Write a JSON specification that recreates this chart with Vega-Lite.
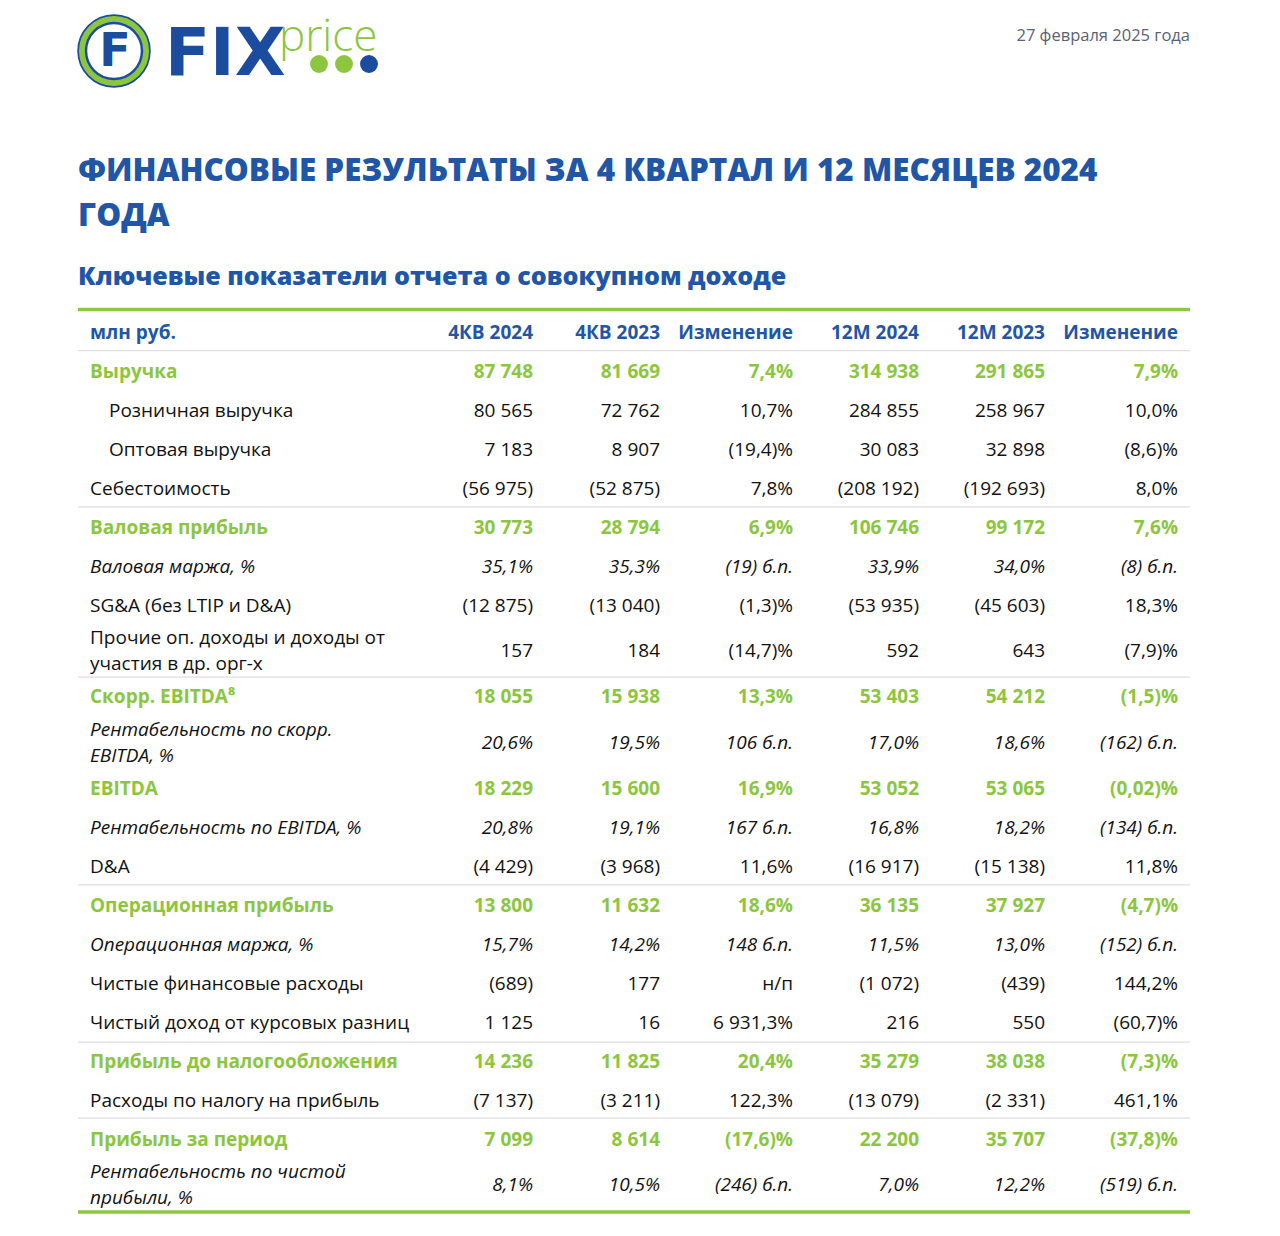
{
  "$schema": "https://vega.github.io/schema/vega-lite/v6.json",
  "width": 1280,
  "height": 1236,
  "autosize": "none",
  "padding": 0,
  "background": "white",
  "config": {"view": {"stroke": null}, "text": {"font": "Open Sans", "lineBreak": "\n"}},
  "datasets": {
    "rows": [
      {"r": 0, "kind": "head", "label": "млн руб.", "v1": "4КВ 2024", "v2": "4КВ 2023", "v3": "Изменение", "v4": "12M 2024", "v5": "12M 2023", "v6": "Изменение"},
      {"r": 1, "kind": "total", "label": "Выручка", "v1": "87 748", "v2": "81 669", "v3": "7,4%", "v4": "314 938", "v5": "291 865", "v6": "7,9%"},
      {"r": 2, "kind": "sub", "label": "Розничная выручка", "v1": "80 565", "v2": "72 762", "v3": "10,7%", "v4": "284 855", "v5": "258 967", "v6": "10,0%"},
      {"r": 3, "kind": "sub", "label": "Оптовая выручка", "v1": "7 183", "v2": "8 907", "v3": "(19,4)%", "v4": "30 083", "v5": "32 898", "v6": "(8,6)%"},
      {"r": 4, "kind": "norm", "label": "Себестоимость", "v1": "(56 975)", "v2": "(52 875)", "v3": "7,8%", "v4": "(208 192)", "v5": "(192 693)", "v6": "8,0%"},
      {"r": 5, "kind": "total", "label": "Валовая прибыль", "v1": "30 773", "v2": "28 794", "v3": "6,9%", "v4": "106 746", "v5": "99 172", "v6": "7,6%"},
      {"r": 6, "kind": "ital", "label": "Валовая маржа, %", "v1": "35,1%", "v2": "35,3%", "v3": "(19) б.п.", "v4": "33,9%", "v5": "34,0%", "v6": "(8) б.п."},
      {"r": 7, "kind": "norm", "label": "SG&A (без LTIP и D&A)", "v1": "(12 875)", "v2": "(13 040)", "v3": "(1,3)%", "v4": "(53 935)", "v5": "(45 603)", "v6": "18,3%"},
      {"r": 8, "kind": "norm2", "label": "Прочие оп. доходы и доходы от\nучастия в др. орг-х", "v1": "157", "v2": "184", "v3": "(14,7)%", "v4": "592", "v5": "643", "v6": "(7,9)%"},
      {"r": 9, "kind": "total", "label": "Скорр. EBITDA⁸", "v1": "18 055", "v2": "15 938", "v3": "13,3%", "v4": "53 403", "v5": "54 212", "v6": "(1,5)%"},
      {"r": 10, "kind": "ital2", "label": "Рентабельность по скорр.\nEBITDA, %", "v1": "20,6%", "v2": "19,5%", "v3": "106 б.п.", "v4": "17,0%", "v5": "18,6%", "v6": "(162) б.п."},
      {"r": 11, "kind": "total", "label": "EBITDA", "v1": "18 229", "v2": "15 600", "v3": "16,9%", "v4": "53 052", "v5": "53 065", "v6": "(0,02)%"},
      {"r": 12, "kind": "ital", "label": "Рентабельность по EBITDA, %", "v1": "20,8%", "v2": "19,1%", "v3": "167 б.п.", "v4": "16,8%", "v5": "18,2%", "v6": "(134) б.п."},
      {"r": 13, "kind": "norm", "label": "D&A", "v1": "(4 429)", "v2": "(3 968)", "v3": "11,6%", "v4": "(16 917)", "v5": "(15 138)", "v6": "11,8%"},
      {"r": 14, "kind": "total", "label": "Операционная прибыль", "v1": "13 800", "v2": "11 632", "v3": "18,6%", "v4": "36 135", "v5": "37 927", "v6": "(4,7)%"},
      {"r": 15, "kind": "ital", "label": "Операционная маржа, %", "v1": "15,7%", "v2": "14,2%", "v3": "148 б.п.", "v4": "11,5%", "v5": "13,0%", "v6": "(152) б.п."},
      {"r": 16, "kind": "norm", "label": "Чистые финансовые расходы", "v1": "(689)", "v2": "177", "v3": "н/п", "v4": "(1 072)", "v5": "(439)", "v6": "144,2%"},
      {"r": 17, "kind": "norm", "label": "Чистый доход от курсовых разниц", "v1": "1 125", "v2": "16", "v3": "6 931,3%", "v4": "216", "v5": "550", "v6": "(60,7)%"},
      {"r": 18, "kind": "total", "label": "Прибыль до налогообложения", "v1": "14 236", "v2": "11 825", "v3": "20,4%", "v4": "35 279", "v5": "38 038", "v6": "(7,3)%"},
      {"r": 19, "kind": "norm", "label": "Расходы по налогу на прибыль", "v1": "(7 137)", "v2": "(3 211)", "v3": "122,3%", "v4": "(13 079)", "v5": "(2 331)", "v6": "461,1%"},
      {"r": 20, "kind": "total", "label": "Прибыль за период", "v1": "7 099", "v2": "8 614", "v3": "(17,6)%", "v4": "22 200", "v5": "35 707", "v6": "(37,8)%"},
      {"r": 21, "kind": "ital2", "label": "Рентабельность по чистой\nприбыли, %", "v1": "8,1%", "v2": "10,5%", "v3": "(246) б.п.", "v4": "7,0%", "v5": "12,2%", "v6": "(519) б.п."}
    ],
    "cols": [
      {"key": "v1", "c": 1}, {"key": "v2", "c": 2}, {"key": "v3", "c": 3},
      {"key": "v4", "c": 4}, {"key": "v5", "c": 5}, {"key": "v6", "c": 6}
    ],
    "lines": [
      {"r": -0.6, "style": "green"},
      {"r": 0.45, "style": "thin"},
      {"r": 4.46, "style": "thin"},
      {"r": 8.57, "style": "thin"},
      {"r": 13.46, "style": "thin"},
      {"r": 17.49, "style": "thin"},
      {"r": 19.44, "style": "thin"},
      {"r": 21.6, "style": "green"}
    ]
  },
  "layer": [
    {
      "data": {"name": "lines"},
      "transform": [{"filter": "datum.style === 'thin'"}],
      "mark": {"type": "rule", "stroke": "#dedede", "strokeWidth": 1.2},
      "encoding": {
        "y": {"field": "r", "type": "quantitative", "axis": null, "scale": {"domain": [0,1,2,3,4,5,6,7,8,9,10,11,12,13,14,15,16,17,18,19,20,21], "range": [333,372,411,450,489,528,567,606,651,697,743,789,828,867,906,945,984,1023,1062,1101,1140,1185], "zero": false, "nice": false}},
        "x": {"datum": -1, "type": "quantitative", "axis": null, "scale": {"domain": [-1,0,1,2,3,4,5,6,7], "range": [78,90,533,660,793,919,1045,1178,1190], "zero": false, "nice": false}},
        "x2": {"datum": 7}
      }
    },
    {
      "data": {"name": "lines"},
      "transform": [{"filter": "datum.style === 'green'"}],
      "mark": {"type": "rule", "stroke": "#8dc63f", "strokeWidth": 3.5},
      "encoding": {
        "y": {"field": "r", "type": "quantitative"},
        "x": {"datum": -1, "type": "quantitative"},
        "x2": {"datum": 7}
      }
    },
    {
      "data": {"name": "rows"},
      "transform": [{"filter": "datum.kind === 'head' || datum.kind === 'total'"}],
      "mark": {"type": "text", "align": "left", "baseline": "middle", "fontSize": 19, "fontWeight": "bold"},
      "encoding": {
        "y": {"field": "r", "type": "quantitative"},
        "x": {"datum": 0, "type": "quantitative"},
        "text": {"field": "label"},
        "color": {"field": "kind", "type": "nominal", "legend": null, "scale": {"domain": ["head","total","norm","norm2","sub","ital","ital2"], "range": ["#1f56a6","#8cc63e","#111111","#111111","#111111","#111111","#111111"]}}
      }
    },
    {
      "data": {"name": "rows"},
      "transform": [
        {"filter": "datum.kind === 'head' || datum.kind === 'total'"},
        {"fold": ["v1","v2","v3","v4","v5","v6"], "as": ["key","val"]},
        {"lookup": "key", "from": {"data": {"name": "cols"}, "key": "key", "fields": ["c"]}}
      ],
      "mark": {"type": "text", "align": "right", "baseline": "middle", "fontSize": 19, "fontWeight": "bold"},
      "encoding": {
        "y": {"field": "r", "type": "quantitative"},
        "x": {"field": "c", "type": "quantitative"},
        "text": {"field": "val"},
        "color": {"field": "kind", "type": "nominal", "legend": null}
      }
    },
    {
      "data": {"name": "rows"},
      "transform": [{"filter": "datum.kind === 'norm'"}],
      "mark": {"type": "text", "align": "left", "baseline": "middle", "fontSize": 19},
      "encoding": {
        "y": {"field": "r", "type": "quantitative"},
        "x": {"datum": 0, "type": "quantitative"},
        "text": {"field": "label"},
        "color": {"field": "kind", "type": "nominal", "legend": null}
      }
    },
    {
      "data": {"name": "rows"},
      "transform": [{"filter": "datum.kind === 'norm2'"}],
      "mark": {"type": "text", "align": "left", "baseline": "middle", "fontSize": 19, "lineHeight": 26, "dy": -13},
      "encoding": {
        "y": {"field": "r", "type": "quantitative"},
        "x": {"datum": 0, "type": "quantitative"},
        "text": {"field": "label"},
        "color": {"field": "kind", "type": "nominal", "legend": null}
      }
    },
    {
      "data": {"name": "rows"},
      "transform": [{"filter": "datum.kind === 'sub'"}],
      "mark": {"type": "text", "align": "left", "baseline": "middle", "fontSize": 19, "dx": 19},
      "encoding": {
        "y": {"field": "r", "type": "quantitative"},
        "x": {"datum": 0, "type": "quantitative"},
        "text": {"field": "label"},
        "color": {"field": "kind", "type": "nominal", "legend": null}
      }
    },
    {
      "data": {"name": "rows"},
      "transform": [
        {"filter": "datum.kind === 'norm' || datum.kind === 'norm2' || datum.kind === 'sub'"},
        {"fold": ["v1","v2","v3","v4","v5","v6"], "as": ["key","val"]},
        {"lookup": "key", "from": {"data": {"name": "cols"}, "key": "key", "fields": ["c"]}}
      ],
      "mark": {"type": "text", "align": "right", "baseline": "middle", "fontSize": 19},
      "encoding": {
        "y": {"field": "r", "type": "quantitative"},
        "x": {"field": "c", "type": "quantitative"},
        "text": {"field": "val"},
        "color": {"field": "kind", "type": "nominal", "legend": null}
      }
    },
    {
      "data": {"name": "rows"},
      "transform": [{"filter": "datum.kind === 'ital'"}],
      "mark": {"type": "text", "align": "left", "baseline": "middle", "fontSize": 19, "fontStyle": "italic"},
      "encoding": {
        "y": {"field": "r", "type": "quantitative"},
        "x": {"datum": 0, "type": "quantitative"},
        "text": {"field": "label"},
        "color": {"field": "kind", "type": "nominal", "legend": null}
      }
    },
    {
      "data": {"name": "rows"},
      "transform": [{"filter": "datum.kind === 'ital2'"}],
      "mark": {"type": "text", "align": "left", "baseline": "middle", "fontSize": 19, "fontStyle": "italic", "lineHeight": 26, "dy": -13},
      "encoding": {
        "y": {"field": "r", "type": "quantitative"},
        "x": {"datum": 0, "type": "quantitative"},
        "text": {"field": "label"},
        "color": {"field": "kind", "type": "nominal", "legend": null}
      }
    },
    {
      "data": {"name": "rows"},
      "transform": [
        {"filter": "datum.kind === 'ital' || datum.kind === 'ital2'"},
        {"fold": ["v1","v2","v3","v4","v5","v6"], "as": ["key","val"]},
        {"lookup": "key", "from": {"data": {"name": "cols"}, "key": "key", "fields": ["c"]}}
      ],
      "mark": {"type": "text", "align": "right", "baseline": "middle", "fontSize": 19, "fontStyle": "italic"},
      "encoding": {
        "y": {"field": "r", "type": "quantitative"},
        "x": {"field": "c", "type": "quantitative"},
        "text": {"field": "val"},
        "color": {"field": "kind", "type": "nominal", "legend": null}
      }
    },
    {
      "data": {"values": [{}]},
      "mark": {"type": "text", "text": "ФИНАНСОВЫЕ РЕЗУЛЬТАТЫ ЗА 4 КВАРТАЛ И 12 МЕСЯЦЕВ 2024", "font": "Open Sans", "fontWeight": 800, "fontSize": 31.4, "color": "#1f56a6", "align": "left", "baseline": "middle"},
      "encoding": {"x": {"value": 78}, "y": {"value": 172}}
    },
    {
      "data": {"values": [{}]},
      "mark": {"type": "text", "text": "ГОДА", "font": "Open Sans", "fontWeight": 800, "fontSize": 31.4, "color": "#1f56a6", "align": "left", "baseline": "middle"},
      "encoding": {"x": {"value": 78}, "y": {"value": 217}}
    },
    {
      "data": {"values": [{}]},
      "mark": {"type": "text", "text": "Ключевые показатели отчета о совокупном доходе", "font": "Open Sans", "fontWeight": 800, "fontSize": 25.1, "color": "#1f56a6", "align": "left", "baseline": "middle"},
      "encoding": {"x": {"value": 78}, "y": {"value": 277}}
    },
    {
      "data": {"values": [{}]},
      "mark": {"type": "text", "text": "27 февраля 2025 года", "fontSize": 16.5, "color": "#5b6270", "align": "right", "baseline": "middle"},
      "encoding": {"x": {"value": 1190}, "y": {"value": 36}}
    },
    {
      "data": {"values": [{}]},
      "mark": {"type": "point", "shape": "circle", "filled": false, "size": 5041, "stroke": "#1b4c9e", "strokeWidth": 2.5, "opacity": 1},
      "encoding": {"x": {"value": 114}, "y": {"value": 51}}
    },
    {
      "data": {"values": [{}]},
      "mark": {"type": "point", "shape": "circle", "filled": false, "size": 4096, "stroke": "#8cc63e", "strokeWidth": 6, "opacity": 1},
      "encoding": {"x": {"value": 114}, "y": {"value": 51}}
    },
    {
      "data": {"values": [{}]},
      "mark": {"type": "point", "shape": "circle", "filled": false, "size": 3136, "stroke": "#1b4c9e", "strokeWidth": 2.5, "opacity": 1},
      "encoding": {"x": {"value": 114}, "y": {"value": 51}}
    },
    {
      "data": {"values": [{}]},
      "mark": {"type": "text", "text": "F", "font": "DejaVu Sans", "fontWeight": "bold", "fontSize": 46, "color": "#1b4c9e", "align": "center", "baseline": "middle"},
      "encoding": {"x": {"value": 115}, "y": {"value": 52}}
    },
    {
      "data": {"values": [{}]},
      "mark": {"type": "text", "text": "FIX", "font": "DejaVu Sans", "fontWeight": "bold", "fontSize": 66, "color": "#1b4c9e", "align": "left", "baseline": "alphabetic"},
      "encoding": {"x": {"value": 165}, "y": {"value": 75}}
    },
    {
      "data": {"values": [{}]},
      "mark": {"type": "text", "text": "price", "font": "Open Sans", "fontWeight": 300, "fontSize": 44, "color": "#8cc63e", "align": "left", "baseline": "alphabetic"},
      "encoding": {"x": {"value": 279}, "y": {"value": 51}}
    },
    {
      "data": {"values": [{}]},
      "mark": {"type": "point", "shape": "circle", "filled": true, "size": 320, "opacity": 1, "color": "#8cc63e"},
      "encoding": {"x": {"value": 319}, "y": {"value": 64}}
    },
    {
      "data": {"values": [{}]},
      "mark": {"type": "point", "shape": "circle", "filled": true, "size": 320, "opacity": 1, "color": "#8cc63e"},
      "encoding": {"x": {"value": 344}, "y": {"value": 64}}
    },
    {
      "data": {"values": [{}]},
      "mark": {"type": "point", "shape": "circle", "filled": true, "size": 320, "opacity": 1, "color": "#1b4c9e"},
      "encoding": {"x": {"value": 369}, "y": {"value": 64}}
    }
  ]
}
